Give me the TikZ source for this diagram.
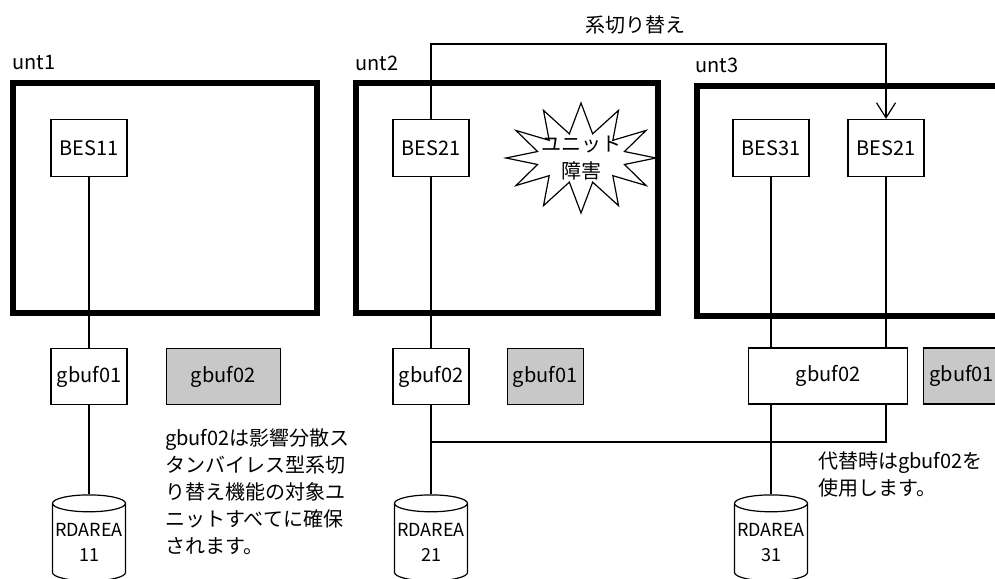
\documentclass[tikz,border=0pt]{standalone}
\usepackage{fontspec}
\setmainfont{Noto Sans CJK JP}
\usepackage{tikz}
\usetikzlibrary{
	positioning,
	arrows.meta,
	shapes.geometric,
	shapes.symbols
}
\definecolor{SpareGray}{RGB}{200,200,200}
\definecolor{FrameBlack}{RGB}{0,0,0}

\tikzset{
	unitframe/.style={draw=FrameBlack, line width=6pt, inner sep=0pt},
	unitlabel/.style={anchor=west, inner sep=0pt},
	besbox/.style={draw, line width=1.2pt, inner sep=0pt, minimum width=76pt, minimum height=57pt},
	bufbox/.style={draw, line width=1.2pt, inner sep=0pt, minimum width=76pt, minimum height=56pt},
	sparebuf/.style={bufbox, fill=SpareGray},
	rdarea/.style={draw, line width=1.2pt, cylinder, shape border rotate=90, aspect=0.25,
		minimum width=73pt, minimum height=86pt, inner sep=0pt, align=center,
		font=\fontsize{18}{25}\selectfont},
	link/.style={line width=1.2pt},
	notetext/.style={anchor=north west, inner sep=0pt, align=left}
}

\begin{document}
\begin{tikzpicture}[x=1pt, y=-1pt, font=\fontsize{20}{27}\selectfont]
				
				\clip (0,0) rectangle (995,578);
				
				% units
				\node[unitframe, minimum width=304pt, minimum height=230pt] (U1) at (165,198) {};
				\node[unitframe, minimum width=302pt, minimum height=230pt] (U2) at (507,198) {};
				\node[unitframe, minimum width=310pt, minimum height=230pt] (U3) at (852,201) {};
				\node[unitlabel] (L1) at (12,63) {unt1};
				\node[unitlabel] (L2) at (355,63) {unt2};
				\node[unitlabel] (L3) at (695,65) {unt3};
				
				% back-end servers
				\node[besbox] (B11) at (89,148) {BES11};
				\node[besbox] (B21) at (431,148) {BES21};
				\node[besbox] (B31) at (771,148) {BES31};
				\node[besbox] (B22) at (886,148) {BES21};
				
				\node[
				draw,
				line width=1.2pt,
				fill=white,
				starburst,
				starburst points=12,
				starburst point height=30pt,
				random starburst=0,
				minimum width=150pt,
				minimum height=110pt,
				inner xsep=-14pt,
				inner ysep=-6pt,
				align=center
				] (F2) at (581,158) {ユニット\\障害};
				
				% global buffers
				\node[bufbox, below=171pt of B11] (G11) {gbuf01};
				\node[sparebuf, minimum width=114pt, right=38pt of G11] (G12) {gbuf02};
				\node[bufbox, below=171pt of B21] (G21) {gbuf02};
				\node[sparebuf, right=37pt of G21] (G22) {gbuf01};
				\node[bufbox, minimum width=159pt] (G31) at (828,376) {gbuf02};
				\node[sparebuf, right=15pt of G31] (G32) {gbuf01};
				
				% RD areas
				\node[rdarea, below=89pt of G11] (R11) {RDAREA\\11};
				\node[rdarea, below=89pt of G21] (R21) {RDAREA\\21};
				\node[rdarea] (R31) at (R21 -| B31) {RDAREA\\31};
				
				% notes
				\node[notetext] (N1) at (165,428) {gbuf02は影響分散ス\\タンバイレス型系切\\り替え機能の対象ユ\\ニットすべてに確保\\されます。};
				\node[notetext] (N2) at (818,451) {代替時はgbuf02を\\使用します。};
				\node (SW) at (635,25) {系切り替え};
				
				\coordinate (swline) at (635,44);
				\coordinate (merge) at (431,442);
				
				\draw[link] (B11) -- (G11) -- (R11);
				\draw[link] (B21) -- (G21) -- (R21);
				\draw[link] (B31) -- (B31 |- G31.north);
				\draw[link] (B22) -- (B22 |- G31.north);
				\draw[link] (G31.south -| R31.north) -- (R31.north);
				\draw[link] (G31.south -| B22) |- (merge);
				
				\draw[
				link,
				-{Straight Barb[length=15pt, width=19pt, line width=1.2pt]}
				] (B21.north) |- (swline) -| (B22.north);
				
			\end{tikzpicture}
\end{document}
